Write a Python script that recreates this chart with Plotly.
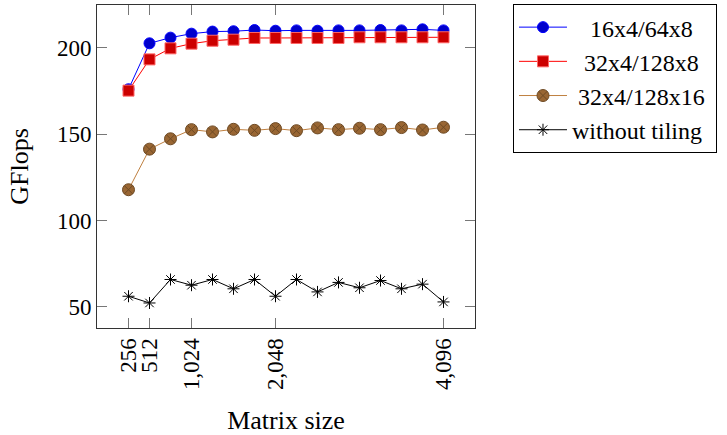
import plotly.graph_objects as go

sizes = [256, 512, 768, 1024, 1280, 1536, 1792, 2048, 2304, 2560, 2816, 3072, 3328, 3584, 3840, 4096]

gf_16x4_64x8 = [176.1, 202.7, 206.0, 208.3, 209.5, 209.7, 210.4, 210.0, 210.2, 210.0, 210.2, 210.2, 210.4, 210.2, 210.8, 210.2]
gf_32x4_128x8 = [175.3, 193.4, 199.8, 202.5, 204.2, 204.8, 205.8, 205.8, 205.8, 205.8, 205.8, 206.2, 206.2, 206.2, 206.2, 206.2]
gf_32x4_128x16 = [117.9, 141.4, 147.4, 152.7, 151.4, 152.9, 152.3, 153.3, 152.1, 153.7, 152.7, 153.5, 152.7, 153.9, 152.5, 154.1]
gf_no_tiling = [56.2, 52.3, 65.9, 62.6, 65.9, 60.5, 65.9, 56.2, 65.9, 58.7, 64.2, 61.1, 65.3, 60.5, 63.2, 52.9]

x_tick_vals = [256, 512, 1024, 2048, 4096]
x_tick_text = ["256", "512", "1,024", "2,048", "4,096"]
y_tick_vals = [50, 100, 150, 200]

names = ["16x4/64x8", "32x4/128x8", "32x4/128x16", "without tiling"]
# leading non-breaking spaces to centre the legend labels like the reference
name_pads = [3, 2, 1, 0]

FONT = "Liberation Serif"
FS_TICK = 23
FS_TITLE = 26
FS_LEG = 24
NB = "\u00a0"

fig = go.Figure()

styles = [
    dict(line=dict(color="#0000ff", width=1),
         marker=dict(symbol="circle", size=11, color="#0000cc", line=dict(color="#0000ff", width=1))),
    dict(line=dict(color="#ff0000", width=1),
         marker=dict(symbol="square", size=11, color="#cc0000", line=dict(color="#ff6666", width=1))),
    dict(line=dict(color="#bf8040", width=1),
         marker=dict(symbol="circle-x", size=12, color="#996633", line=dict(color="#6e4a24", width=1))),
    dict(line=dict(color="#000000", width=1),
         marker=dict(symbol="asterisk-open", size=10, color="#000000", line=dict(color="#000000", width=1))),
]
series = [gf_16x4_64x8, gf_32x4_128x8, gf_32x4_128x16, gf_no_tiling]

for i, (ys, st) in enumerate(zip(series, styles)):
    fig.add_trace(go.Scatter(
        x=sizes, y=ys, name=NB * name_pads[i] + names[i] + NB, mode="lines+markers", **st,
    ))

fig.update_layout(
    width=727, height=435,
    margin=dict(l=97, r=252, t=5, b=107, autoexpand=False),
    paper_bgcolor="white", plot_bgcolor="white",
    font=dict(family=FONT, size=FS_TICK, color="black"),
    showlegend=True,
    legend=dict(
        x=1.1005, y=1.003, xanchor="left", yanchor="top",
        bordercolor="black", borderwidth=1, bgcolor="white",
        font=dict(family=FONT, size=FS_LEG, color="black"),
        itemwidth=48,
    ),
    xaxis=dict(
        range=[-128, 4480], tickmode="array", tickvals=x_tick_vals, ticktext=x_tick_text,
        tickangle=-90, ticks="inside", ticklen=10, tickcolor="#777", tickwidth=1,
        showline=True, linecolor="#333", linewidth=1, mirror="ticks",
        showgrid=False, zeroline=False, automargin=False,
        title=dict(text="Matrix size", font=dict(family=FONT, size=FS_TITLE), standoff=21),
        tickfont=dict(family=FONT, size=FS_TICK),
    ),
    yaxis=dict(
        range=[37.8, 224.9], tickmode="array", tickvals=y_tick_vals,
        ticks="inside", ticklen=10, tickcolor="#777", tickwidth=1,
        showline=True, linecolor="#333", linewidth=1, mirror="ticks",
        showgrid=False, zeroline=False, automargin=False,
        title=dict(text="GFlops", font=dict(family=FONT, size=FS_TITLE), standoff=20),
        tickfont=dict(family=FONT, size=FS_TICK),
    ),
)

fig.write_html(
    "out.html",
    config={"displayModeBar": False},
    post_script="document.body.style.margin='0';document.body.style.padding='0';",
)
